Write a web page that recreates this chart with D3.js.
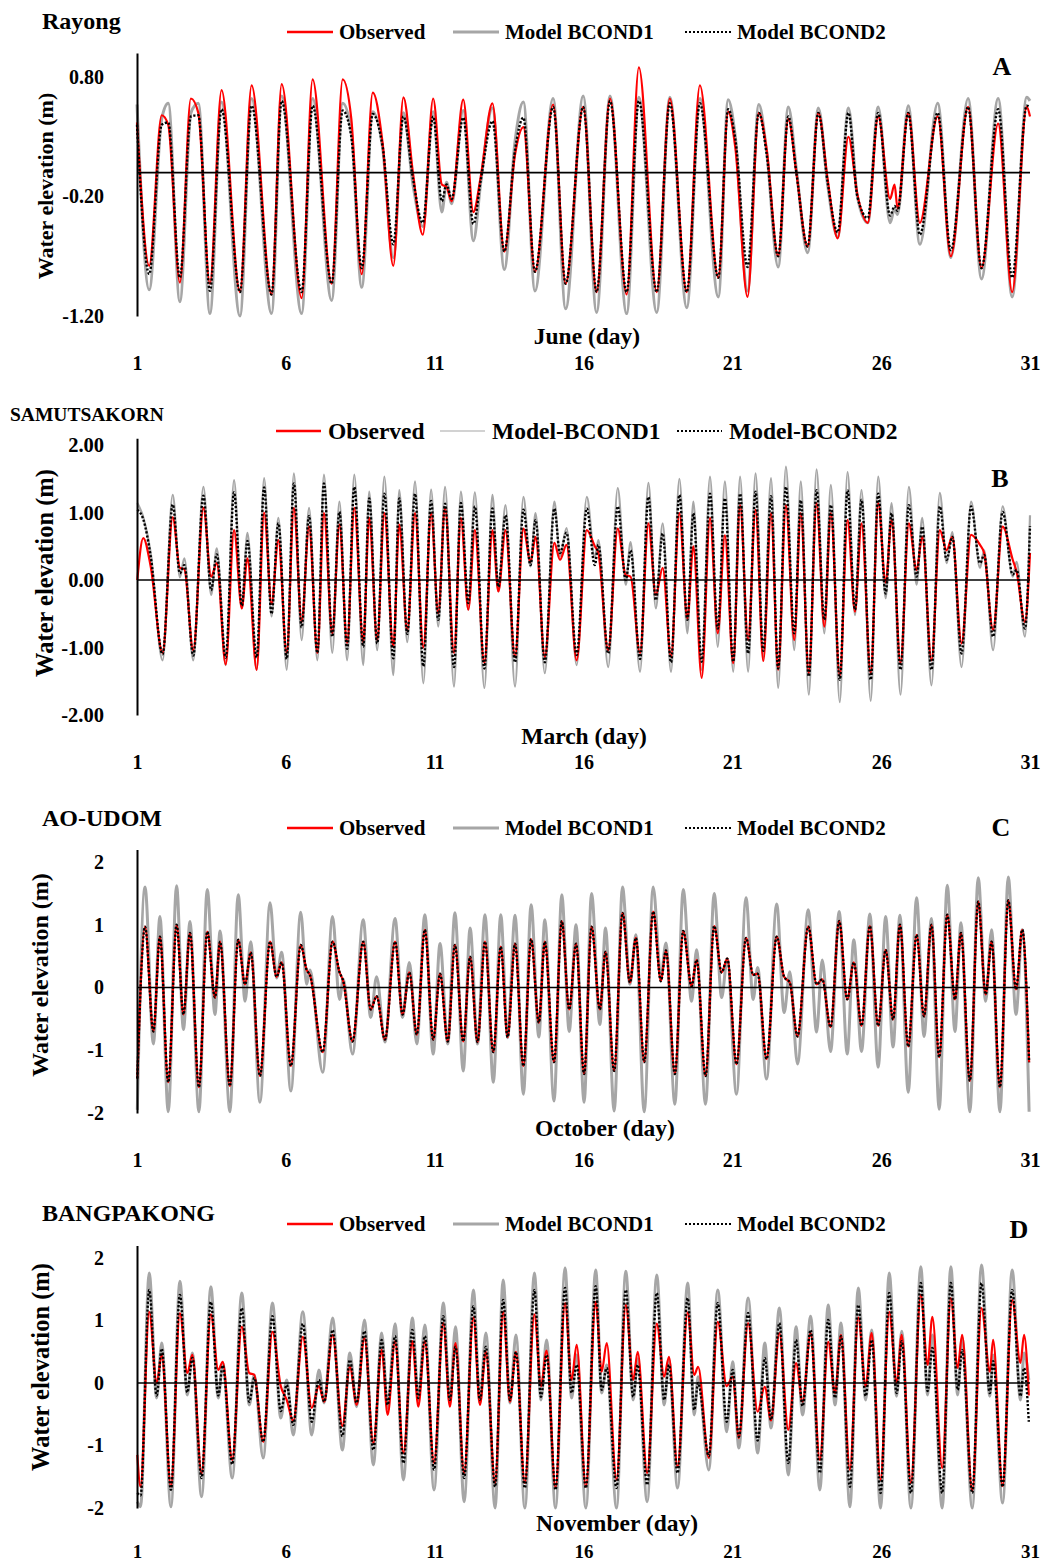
<!DOCTYPE html>
<html>
<head>
<meta charset="utf-8">
<script src="https://cdn.jsdelivr.net/npm/d3@7"></script>
<style>
  body { margin: 0; background: #fff; }
  svg text { font-family: "Liberation Serif", "Times New Roman", serif; font-weight: bold; fill: #000; }
</style>
</head>
<body>
<svg id="chart" width="1043" height="1564"></svg>
<script>
// ---- shared ----
const dayTicks = [1, 6, 11, 16, 21, 26, 31];
const seriesNames = ["Observed", "Model BCOND1", "Model BCOND2"];
const seriesNamesHyphen = ["Observed", "Model-BCOND1", "Model-BCOND2"];

// ---- Rayong, June: tidal turning points (day, water elevation m) ----
const rayongDays = [1.00,1.41,1.83,2.05,2.44,2.81,3.06,3.45,3.84,4.46,4.85,5.52,5.86,6.53,6.90,7.54,7.91,8.20,8.55,8.92,9.25,9.61,9.95,10.27,10.60,10.95,11.24,11.40,11.57,11.96,12.30,12.55,12.94,13.34,13.70,13.98,14.37,14.98,15.40,15.99,16.44,16.89,17.45,17.86,18.46,18.90,19.47,19.91,20.53,20.86,21.10,21.51,21.89,22.15,22.54,22.88,23.15,23.53,23.89,24.20,24.54,24.90,25.20,25.55,25.90,26.30,26.45,26.55,26.91,27.30,27.90,28.34,28.92,29.37,29.93,30.40,30.89,31.00];
const rayongObserved = [0.42,-0.78,0.48,0.40,-0.92,0.62,0.50,-0.93,0.69,-1.00,0.73,-1.02,0.74,-1.05,0.78,-0.93,0.78,0.45,-0.85,0.67,0.25,-0.78,0.63,0.00,-0.52,0.62,-0.10,-0.12,-0.24,0.61,-0.33,-0.03,0.58,-0.66,0.15,0.38,-0.83,0.57,-0.93,0.55,-1.00,0.62,-1.02,0.88,-1.00,0.62,-1.00,0.73,-0.88,0.51,0.21,-1.04,0.50,0.20,-0.70,0.45,0.00,-0.62,0.50,-0.05,-0.55,0.30,-0.18,-0.42,0.47,-0.22,-0.10,-0.30,0.50,-0.42,0.47,-0.70,0.55,-0.80,0.41,-1.00,0.55,0.47];
const rayongBcond1 = [0.57,-0.98,0.45,0.58,-1.08,0.50,0.58,-1.18,0.59,-1.20,0.62,-1.18,0.64,-1.18,0.62,-1.07,0.58,0.34,-0.96,0.51,0.21,-0.71,0.50,-0.10,-0.45,0.51,-0.33,-0.08,-0.26,0.52,-0.57,-0.08,0.54,-0.81,0.26,0.59,-0.99,0.62,-1.14,0.64,-1.17,0.64,-1.18,0.63,-1.17,0.63,-1.13,0.62,-1.04,0.61,0.30,-0.99,0.57,0.18,-0.79,0.55,0.03,-0.67,0.54,-0.10,-0.54,0.54,-0.20,-0.42,0.55,-0.42,-0.30,-0.35,0.56,-0.60,0.58,-0.71,0.62,-0.89,0.62,-1.04,0.63,0.60];
const rayongBcond2 = [0.40,-0.85,0.40,0.42,-0.88,0.47,0.48,-0.99,0.53,-1.00,0.56,-1.02,0.60,-1.00,0.56,-0.93,0.52,0.30,-0.80,0.49,0.22,-0.60,0.47,-0.05,-0.42,0.47,-0.24,-0.10,-0.22,0.46,-0.43,-0.06,0.43,-0.66,0.19,0.46,-0.83,0.55,-0.93,0.55,-1.00,0.60,-1.00,0.60,-1.00,0.58,-1.00,0.58,-0.88,0.53,0.28,-0.79,0.50,0.16,-0.70,0.47,0.00,-0.62,0.50,-0.08,-0.50,0.50,-0.20,-0.38,0.50,-0.36,-0.28,-0.32,0.50,-0.52,0.50,-0.65,0.55,-0.80,0.53,-0.88,0.56,0.55];
const rayongTicks = [-1.2, -0.2, 0.8];

// ---- Samutsakorn, March ----
const samutDays = [1.01,1.21,1.46,1.86,2.20,2.44,2.59,2.89,3.23,3.49,3.68,3.98,4.26,4.52,4.71,5.02,5.27,5.52,5.75,6.03,6.27,6.53,6.78,7.06,7.28,7.56,7.80,8.06,8.30,8.60,8.80,9.07,9.31,9.61,9.81,10.08,10.34,10.62,10.88,
  11.12,11.35,11.65,11.88,12.13,12.35,12.67,12.94,13.14,13.38,13.70,13.98,14.22,14.39,14.70,15.02,15.21,15.43,15.77,16.11,16.38,16.50,16.83,17.15,17.42,17.58,17.90,18.18,18.43,18.66,18.94,19.22,19.49,19.69,19.97,20.25,20.51,20.75,21.03,
  21.26,21.53,21.78,22.04,22.30,22.54,22.80,23.08,23.30,23.57,23.83,24.09,24.31,24.61,24.87,25.12,25.34,25.65,25.90,26.15,26.35,26.65,26.93,27.19,27.38,27.69,27.97,28.20,28.39,28.70,29.02,29.32,29.46,29.76,30.08,30.42,30.55,30.83,31.00];
const samutObserved = [0.00,0.62,0.20,-1.08,0.93,0.18,0.16,-1.04,1.07,0.05,0.25,-1.25,0.74,-0.42,0.32,-1.33,1.00,-0.35,0.59,-1.08,1.07,-0.62,0.79,-1.08,0.99,-0.79,0.82,-0.93,1.07,-0.92,0.92,-0.89,0.99,-0.99,0.82,-0.75,0.99,-1.00,0.99,
  -0.49,1.07,-1.08,0.92,-0.44,0.74,-1.23,0.74,-0.17,0.74,-1.14,0.76,0.27,0.64,-1.14,0.55,0.30,0.52,-1.19,0.74,0.50,0.40,-1.04,0.76,0.07,0.05,-1.08,0.84,-0.22,0.18,-1.14,0.99,-0.57,0.50,-1.45,0.92,-0.79,0.66,-1.23,
  1.11,-0.89,1.04,-1.20,0.99,-1.33,1.11,-0.89,0.99,-1.38,1.14,-0.69,0.99,-1.42,0.89,-0.47,0.84,-1.38,1.14,-0.04,0.89,-1.23,0.84,0.15,0.64,-1.19,0.74,0.44,0.64,-0.94,0.67,0.52,0.40,-0.74,0.79,0.30,0.12,-0.62,0.40];
const samutBcond1 = [1.14,0.93,0.40,-1.19,1.26,0.04,0.32,-1.19,1.38,-0.22,0.47,-1.26,1.48,-0.42,0.70,-1.33,1.51,-0.54,0.92,-1.33,1.58,-0.89,1.07,-1.19,1.56,-1.08,1.16,-1.19,1.56,-1.26,1.31,-1.04,1.53,-1.41,1.33,-0.92,1.46,-1.53,1.34,
  -0.69,1.38,-1.58,1.31,-0.44,1.30,-1.60,1.26,-0.17,1.11,-1.58,1.23,0.20,0.99,-1.38,1.16,0.35,0.77,-1.26,1.23,0.33,0.59,-1.29,1.36,-0.07,0.56,-1.36,1.44,-0.42,0.84,-1.36,1.50,-0.79,1.16,-1.33,1.53,-0.99,1.46,-1.36,
  1.53,-1.36,1.58,-1.15,1.51,-1.60,1.68,-1.04,1.46,-1.70,1.64,-0.79,1.41,-1.81,1.60,-0.52,1.33,-1.79,1.53,-0.27,1.14,-1.70,1.38,-0.07,0.92,-1.56,1.29,0.25,0.71,-1.29,1.16,0.18,0.44,-1.04,1.09,0.05,0.27,-0.84,0.96];
const samutBcond2 = [1.04,0.90,0.35,-1.10,1.12,0.10,0.22,-1.12,1.25,-0.15,0.38,-1.15,1.30,-0.38,0.58,-1.15,1.37,-0.50,0.84,-1.17,1.43,-0.70,0.95,-1.08,1.43,-0.84,1.01,-1.02,1.38,-0.99,1.21,-0.94,1.28,-1.16,1.21,-0.80,1.28,-1.28,1.17,
  -0.59,1.13,-1.29,1.14,-0.34,1.09,-1.31,1.06,-0.10,0.96,-1.22,1.04,0.22,0.89,-1.22,1.06,0.40,0.70,-1.11,1.06,0.22,0.52,-1.09,1.09,0.00,0.44,-1.17,1.23,-0.30,0.69,-1.22,1.26,-0.59,0.99,-1.21,1.28,-0.72,1.21,-1.21,
  1.28,-1.09,1.31,-1.05,1.24,-1.31,1.38,-0.79,1.18,-1.43,1.33,-0.59,1.11,-1.48,1.33,-0.44,1.19,-1.48,1.28,-0.20,0.99,-1.33,1.11,0.05,0.79,-1.33,1.09,0.30,0.64,-1.09,1.09,0.25,0.37,-0.84,1.01,0.08,0.15,-0.72,0.80];
const samutTicks = [-2, -1, 0, 1, 2];

// ---- Ao-Udom, October ----
const aoudomDays = [1.01,1.27,1.55,1.77,2.05,2.33,2.56,2.78,3.08,3.36,3.62,3.79,4.12,4.40,4.63,4.82,5.13,5.47,5.69,5.86,6.17,6.50,6.70,6.81,7.24,7.57,7.80,7.93,8.24,8.60,8.85,9.05,9.33,9.67,9.92,10.15,10.40,10.67,10.95,
  11.18,11.44,11.68,11.96,12.19,12.44,12.69,12.97,13.22,13.45,13.70,13.98,14.24,14.50,14.70,15.01,15.27,15.52,15.75,16.02,16.27,16.55,16.74,17.03,17.31,17.56,17.76,18.04,18.34,18.60,18.77,19.07,19.35,19.63,19.80,20.10,20.39,20.64,20.83,
  21.14,21.46,21.70,21.85,22.15,22.49,22.74,22.93,23.19,23.55,23.83,24.02,24.30,24.59,24.86,25.08,25.34,25.62,25.90,26.15,26.40,26.63,26.91,27.19,27.44,27.69,27.95,28.22,28.48,28.68,28.98,29.26,29.51,29.71,29.99,30.27,30.53,30.74,30.97];
const aoudomObserved = [-1.45,0.97,-0.70,0.81,-1.51,1.00,-0.43,0.87,-1.59,0.89,-0.16,0.73,-1.57,0.76,0.05,0.56,-1.41,0.73,0.17,0.40,-1.25,0.68,0.28,0.20,-1.03,0.73,0.25,0.10,-0.86,0.73,-0.35,-0.14,-0.83,0.73,-0.43,0.24,-0.75,0.92,-0.83,
  0.22,-0.86,0.68,-0.86,0.49,-0.87,0.73,-1.03,0.65,-0.79,0.70,-1.25,0.77,-0.56,0.73,-1.19,1.06,-0.35,0.70,-1.38,0.97,-0.35,0.57,-1.33,1.19,0.08,0.79,-1.19,1.21,0.10,0.59,-1.38,0.90,0.02,0.44,-1.41,0.98,0.24,0.46,
  -1.22,0.79,0.20,0.22,-1.14,0.81,0.17,0.08,-0.78,0.97,0.05,0.13,-0.63,1.06,-0.19,0.40,-0.61,0.98,-0.61,0.60,-0.51,1.00,-0.94,0.84,-0.46,1.00,-1.11,1.16,-0.19,0.87,-1.49,1.37,-0.11,0.73,-1.59,1.39,-0.03,0.92,-1.19];
const aoudomBcond1 = [-1.95,1.60,-0.90,1.13,-1.98,1.62,-0.67,1.05,-1.98,1.56,-0.43,0.90,-1.98,1.48,-0.22,0.73,-1.83,1.35,0.15,0.56,-1.65,1.20,0.05,0.28,-1.35,1.13,-0.19,0.13,-1.06,1.08,-0.48,0.17,-0.87,1.10,-0.48,0.40,-0.90,1.16,-1.06,
  0.70,-0.90,1.19,-1.33,0.95,-0.90,1.16,-1.51,1.16,-0.80,1.15,-1.70,1.32,-0.79,1.08,-1.81,1.48,-0.70,1.00,-1.83,1.50,-0.59,0.95,-1.97,1.60,0.05,0.84,-1.98,1.60,0.17,0.71,-1.86,1.56,-0.22,0.60,-1.86,1.50,-0.16,0.46,
  -1.70,1.43,-0.19,0.32,-1.46,1.33,-0.40,0.25,-1.22,1.24,-0.71,0.44,-1.02,1.21,-1.06,0.76,-1.02,1.17,-1.27,1.13,-0.95,1.15,-1.67,1.43,-0.78,1.10,-1.94,1.63,-0.70,1.03,-1.98,1.75,-0.22,0.92,-1.98,1.76,-0.43,0.92,-1.98];
const aoudomBcond2 = [-1.45,0.97,-0.70,0.81,-1.51,1.00,-0.43,0.87,-1.59,0.89,-0.16,0.73,-1.57,0.76,0.05,0.56,-1.41,0.73,0.17,0.40,-1.25,0.68,0.28,0.20,-1.03,0.73,0.25,0.10,-0.86,0.73,-0.35,-0.14,-0.83,0.73,-0.43,0.24,-0.75,0.92,-0.83,
  0.22,-0.86,0.68,-0.86,0.49,-0.87,0.73,-1.03,0.65,-0.79,0.70,-1.25,0.77,-0.56,0.73,-1.19,1.06,-0.35,0.70,-1.38,0.97,-0.35,0.57,-1.33,1.19,0.08,0.79,-1.19,1.21,0.10,0.59,-1.38,0.90,0.02,0.44,-1.41,0.98,0.24,0.46,
  -1.22,0.79,0.20,0.22,-1.14,0.81,0.17,0.08,-0.78,0.97,0.05,0.13,-0.63,1.06,-0.19,0.40,-0.61,0.98,-0.61,0.60,-0.51,1.00,-0.94,0.84,-0.46,1.00,-1.11,1.16,-0.19,0.87,-1.49,1.37,-0.11,0.73,-1.59,1.39,-0.03,0.92,-1.19];
const aoudomTicks = [-2, -1, 0, 1, 2];

// ---- Bangpakong, November ----
const bangDays = [1.01,1.12,1.41,1.66,1.83,2.14,2.44,2.69,2.86,3.17,3.48,3.73,3.88,4.20,4.52,4.77,4.94,5.24,5.55,5.83,6.03,6.25,6.57,6.87,7.11,7.29,7.57,7.90,8.15,8.38,8.64,8.94,9.22,9.42,9.67,9.95,10.25,10.45,10.67,10.98,
  11.29,11.51,11.70,11.99,12.30,12.52,12.72,13.03,13.30,13.53,13.73,14.03,14.35,14.57,14.76,15.06,15.38,15.60,15.77,16.08,16.41,16.61,16.78,17.11,17.42,17.67,17.82,18.14,18.46,18.71,18.87,19.16,19.50,19.72,19.85,20.21,20.51,20.81,21.01,
  21.22,21.53,21.85,22.09,22.30,22.58,22.88,23.14,23.36,23.63,23.94,24.22,24.45,24.65,24.95,25.23,25.48,25.68,25.98,26.27,26.52,26.69,27.00,27.33,27.56,27.72,28.05,28.34,28.57,28.72,29.06,29.37,29.65,29.76,30.08,30.40,30.68,30.80,30.96];
const bangObserved = [-1.15,-1.66,1.14,0.00,0.45,-1.66,1.12,0.16,0.45,-1.45,1.10,0.21,0.34,-1.23,0.90,0.16,0.13,-0.94,0.82,-0.05,-0.27,-0.61,0.74,-0.40,-0.05,-0.30,0.77,-0.69,0.26,-0.35,0.72,-0.96,0.53,-0.51,0.67,-1.12,0.67,-0.38,0.67,-1.28,
  0.96,-0.38,0.64,-1.44,1.05,-0.35,0.50,-1.60,1.14,-0.30,0.50,-1.60,1.10,-0.05,0.52,-1.68,1.28,0.05,0.61,-1.66,1.30,0.18,0.64,-1.55,1.25,0.05,0.50,-1.44,0.95,0.10,0.42,-1.34,1.13,0.13,0.26,-1.20,0.98,-0.05,0.10,
  -0.88,0.96,-0.46,-0.06,-0.60,0.80,-0.75,0.32,-0.30,0.80,-1.23,0.66,-0.16,0.77,-1.39,1.05,-0.05,0.80,-1.55,1.14,0.00,0.77,-1.60,1.41,0.29,1.06,-1.36,1.36,0.24,0.77,-1.73,1.20,0.18,0.69,-1.65,1.33,0.32,0.77,-0.20];
const bangBcond1 = [-1.90,-1.98,1.76,-0.24,0.64,-1.98,1.63,-0.19,0.48,-1.82,1.54,-0.24,0.32,-1.52,1.44,-0.35,0.13,-1.20,1.28,-0.56,0.05,-0.83,1.14,-0.83,0.21,-0.32,1.04,-1.07,0.48,-0.38,1.01,-1.31,0.80,-0.40,0.95,-1.55,1.04,-0.27,0.93,-1.71,
  1.28,-0.30,0.90,-1.90,1.49,-0.32,0.80,-2.00,1.65,-0.32,0.77,-2.00,1.76,-0.27,0.69,-2.00,1.84,-0.24,0.45,-2.00,1.81,-0.16,0.29,-2.00,1.79,-0.27,0.39,-1.90,1.73,-0.35,0.37,-1.68,1.60,-0.51,0.10,-1.39,1.49,-0.78,0.34,
  -1.04,1.36,-1.12,0.64,-0.72,1.20,-1.47,0.90,-0.51,1.07,-1.71,1.25,-0.35,0.96,-1.98,1.52,-0.27,0.85,-2.00,1.76,-0.21,0.83,-2.00,1.86,-0.19,0.77,-2.00,1.86,-0.19,0.72,-2.00,1.89,-0.21,0.45,-1.92,1.81,-0.27,0.48,0.05];
const bangBcond2 = [-1.76,-1.80,1.49,-0.20,0.55,-1.71,1.41,-0.15,0.40,-1.52,1.30,-0.20,0.28,-1.30,1.20,-0.30,0.08,-0.94,1.07,-0.45,-0.03,-0.67,0.95,-0.62,0.05,-0.30,0.85,-0.85,0.37,-0.32,0.83,-1.07,0.69,-0.35,0.75,-1.28,0.85,-0.24,0.75,-1.39,
  1.07,-0.27,0.58,-1.52,1.23,-0.27,0.58,-1.66,1.33,-0.27,0.50,-1.68,1.49,-0.22,0.45,-1.71,1.52,-0.16,0.29,-1.68,1.55,-0.11,0.24,-1.68,1.49,-0.22,0.29,-1.63,1.44,-0.27,0.29,-1.44,1.36,-0.43,0.00,-1.17,1.28,-0.62,0.21,
  -0.86,1.12,-0.92,0.40,-0.59,0.96,-1.28,0.69,-0.37,0.85,-1.44,1.01,-0.24,0.75,-1.66,1.25,-0.21,0.69,-1.76,1.44,-0.16,0.67,-1.76,1.60,-0.13,0.56,-1.76,1.60,-0.11,0.53,-1.76,1.60,-0.16,0.35,-1.66,1.49,-0.21,0.24,-0.62];
const bangTicks = [-2, -1, 0, 1, 2];

// ---- drawing ----
const RED = "#ff0000", GRAY = "#a6a6a6", BLACK = "#000000";
const svg = d3.select("#chart");
const x = d3.scaleLinear().domain([1, 31]).range([137, 1030]);

function drawPanel(p) {
  const g = svg.append("g");
  const y = d3.scaleLinear().domain(p.yDomain).range(p.yRange);
  const line = d3.line().x(d => x(d[0])).y(d => y(d[1])).curve(d3.curveMonotoneX);

  const layers = [
    { vals: p.bcond1, stroke: GRAY, width: p.grayWidth, dash: null },
    { vals: p.observed, stroke: RED, width: 2.2, dash: null },
    { vals: p.bcond2, stroke: BLACK, width: 2.4, dash: "2.2,1.8" }
  ];
  layers.forEach(s => {
    g.append("path")
      .datum(d3.zip(p.days, s.vals))
      .attr("d", line)
      .attr("fill", "none")
      .attr("stroke", s.stroke)
      .attr("stroke-width", s.width)
      .attr("stroke-linejoin", "round")
      .attr("stroke-dasharray", s.dash);
  });

  // zero reference line
  g.append("line")
    .attr("x1", x(1)).attr("x2", x(31))
    .attr("y1", y(0)).attr("y2", y(0))
    .attr("stroke", BLACK).attr("stroke-width", 1.6);

  // y axis
  const ya = g.append("g")
    .attr("transform", `translate(${x(1)},0)`)
    .attr("font-family", null)
    .call(d3.axisLeft(y).tickValues(p.yTicks).tickFormat(p.yFormat).tickSize(0).tickPadding(33));
  ya.attr("font-family", null);
  ya.select(".domain").attr("stroke", BLACK).attr("stroke-width", 2);
  ya.selectAll("text").attr("font-size", p.yTickSize);

  // day labels along the bottom (no axis line)
  const xa = g.append("g")
    .attr("transform", `translate(0,${p.xTickY - 7.2})`)
    .call(d3.axisBottom(x).tickValues(dayTicks).tickFormat(d3.format("d")).tickSize(0).tickPadding(0));
  xa.attr("font-family", null);
  xa.select(".domain").remove();
  xa.selectAll("text").attr("font-size", p.xTickSize);

  // axis titles
  g.append("text")
    .attr("x", p.xTitle[0]).attr("y", p.xTitle[1])
    .attr("text-anchor", "middle").attr("font-size", 23.5)
    .text(p.month + " (day)");
  g.append("text")
    .attr("transform", `translate(${p.yTitle[0]},${p.yTitle[1]}) rotate(-90)`)
    .attr("text-anchor", "middle").attr("dominant-baseline", "central")
    .attr("font-size", p.yTitleSize)
    .text("Water elevation (m)");

  // station name and panel letter
  g.append("text")
    .attr("x", p.station[0]).attr("y", p.station[1])
    .attr("font-size", p.stationSize)
    .text(p.stationName);
  g.append("text")
    .attr("x", p.letter[0]).attr("y", p.letter[1])
    .attr("text-anchor", "middle").attr("font-size", 26)
    .text(p.letterText);

  // legend
  const lg = p.legend;
  const keys = [
    { x0: lg.x[0], stroke: RED, width: 2.6, dash: null, label: lg.names[0] },
    { x0: lg.x[1], stroke: GRAY, width: lg.grayWidth, dash: null, label: lg.names[1] },
    { x0: lg.x[2], stroke: BLACK, width: 2, dash: "2,2", label: lg.names[2] }
  ];
  keys.forEach(k => {
    g.append("line")
      .attr("x1", k.x0).attr("x2", k.x0 + lg.len)
      .attr("y1", lg.y).attr("y2", lg.y)
      .attr("stroke", k.stroke).attr("stroke-width", k.width)
      .attr("stroke-dasharray", k.dash);
    g.append("text")
      .attr("x", k.x0 + lg.len + lg.gap).attr("y", lg.y)
      .attr("dominant-baseline", "central")
      .attr("font-size", lg.size)
      .text(k.label);
  });
}

const fmt2 = d => d.toFixed(2);
const fmt0 = d => String(d);

drawPanel({
  stationName: "Rayong", month: "June", letterText: "A",
  days: rayongDays, observed: rayongObserved, bcond1: rayongBcond1, bcond2: rayongBcond2,
  yDomain: [-1.2, 1.0], yRange: [316, 53.1], yTicks: rayongTicks, yFormat: fmt2, yTickSize: 20,
  grayWidth: 3, xTickY: 363, xTickSize: 20, xTitle: [587, 344], yTitle: [45, 186], yTitleSize: 22,
  station: [42, 29], stationSize: 24, letter: [1002, 75],
  legend: { y: 32, x: [287, 453, 685], len: 46, gap: 6, size: 21, grayWidth: 3, names: seriesNames }
});

drawPanel({
  stationName: "SAMUTSAKORN", month: "March", letterText: "B",
  days: samutDays, observed: samutObserved, bcond1: samutBcond1, bcond2: samutBcond2,
  yDomain: [-2, 2.1], yRange: [715, 438.25], yTicks: samutTicks, yFormat: fmt2, yTickSize: 20.5,
  grayWidth: 2.2, xTickY: 762, xTickSize: 20, xTitle: [584, 744], yTitle: [44, 573], yTitleSize: 24.5,
  station: [10, 421], stationSize: 19.5, letter: [1000, 487],
  legend: { y: 431, x: [276, 440, 677], len: 45, gap: 7, size: 23.5, grayWidth: 1.2, names: seriesNamesHyphen }
});

drawPanel({
  stationName: "AO-UDOM", month: "October", letterText: "C",
  days: aoudomDays, observed: aoudomObserved, bcond1: aoudomBcond1, bcond2: aoudomBcond2,
  yDomain: [-2, 2.2], yRange: [1113, 849.45], yTicks: aoudomTicks, yFormat: fmt0, yTickSize: 20,
  grayWidth: 3, xTickY: 1160, xTickSize: 20, xTitle: [605, 1136], yTitle: [40, 975], yTitleSize: 24,
  station: [42, 826], stationSize: 24, letter: [1001, 836],
  legend: { y: 828, x: [287, 453, 685], len: 46, gap: 6, size: 21, grayWidth: 3, names: seriesNames }
});

drawPanel({
  stationName: "BANGPAKONG", month: "November", letterText: "D",
  days: bangDays, observed: bangObserved, bcond1: bangBcond1, bcond2: bangBcond2,
  yDomain: [-2, 2.2], yRange: [1508, 1245.5], yTicks: bangTicks, yFormat: fmt0, yTickSize: 20,
  grayWidth: 3, xTickY: 1552, xTickSize: 19, xTitle: [617, 1531], yTitle: [40, 1367], yTitleSize: 24.5,
  station: [42, 1221], stationSize: 24, letter: [1019, 1238],
  legend: { y: 1224, x: [287, 453, 685], len: 46, gap: 6, size: 21, grayWidth: 3, names: seriesNames }
});
</script>
</body>
</html>
